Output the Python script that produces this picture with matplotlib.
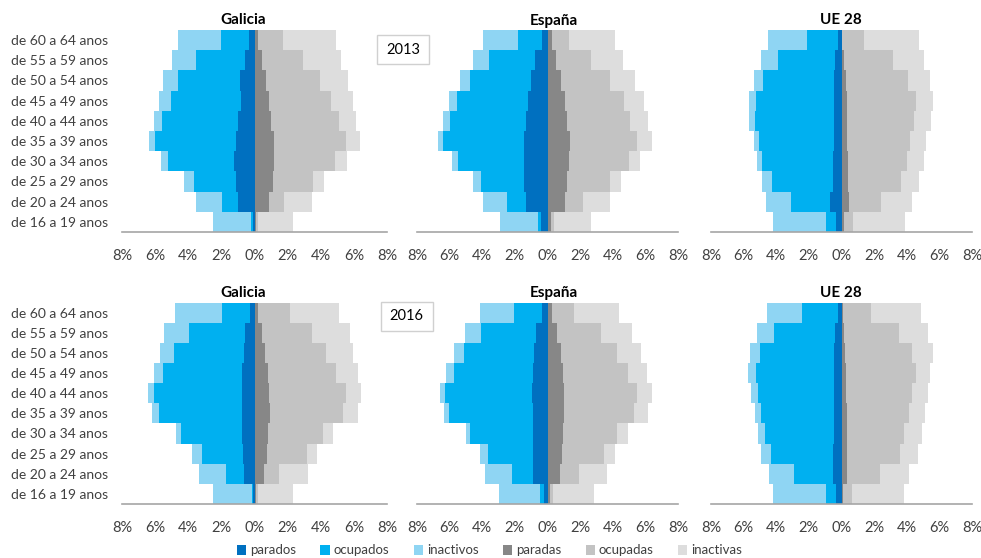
import numpy as np
import matplotlib
matplotlib.use("Agg")
import matplotlib.pyplot as plt
from matplotlib.patches import Patch, Rectangle

plt.rcParams['font.family'] = ['Lato', 'DejaVu Sans']

ages = ["de 16 a 19 anos", "de 20 a 24 anos", "de 25 a 29 anos", "de 30 a 34 anos",
        "de 35 a 39 anos", "de 40 a 44 anos", "de 45 a 49 anos", "de 50 a 54 anos",
        "de 55 a 59 anos", "de 60 a 64 anos"]
xticks = [-8, -6, -4, -2, 0, 2, 4, 6, 8]
xticklabels = ["8%", "6%", "4%", "2%", "0%", "2%", "4%", "6%", "8%"]

# ---- 2013 ----
gal13_parados   = [0.10, 0.98, 1.14, 1.24, 1.14, 1.00, 0.84, 0.90, 0.60, 0.34]
gal13_ocupados  = [0.14, 1.00, 2.54, 3.96, 4.86, 4.58, 4.20, 3.74, 2.94, 1.70]
gal13_inactivos = [2.24, 1.56, 0.56, 0.44, 0.38, 0.50, 0.74, 0.86, 1.46, 2.60]
gal13_paradas   = [0.10, 0.86, 1.10, 1.16, 1.16, 1.02, 0.86, 0.72, 0.46, 0.22]
gal13_ocupadas  = [0.12, 0.94, 2.46, 3.70, 4.34, 4.08, 3.74, 3.24, 2.46, 1.50]
gal13_inactivas = [2.10, 1.66, 0.66, 0.70, 0.86, 1.02, 1.32, 1.70, 2.30, 3.20]

esp13_parados   = [0.39, 1.29, 1.41, 1.41, 1.41, 1.29, 1.22, 1.02, 0.76, 0.31]
esp13_ocupados  = [0.20, 1.20, 2.69, 4.10, 5.00, 4.67, 4.33, 3.71, 2.81, 1.47]
esp13_inactivos = [2.31, 1.49, 0.49, 0.35, 0.30, 0.45, 0.47, 0.66, 1.02, 2.20]
esp13_paradas   = [0.22, 1.08, 1.22, 1.29, 1.35, 1.22, 1.08, 0.84, 0.51, 0.27]
esp13_ocupadas  = [0.15, 1.08, 2.64, 3.71, 4.14, 3.84, 3.59, 3.02, 2.16, 1.02]
esp13_inactivas = [2.30, 1.68, 0.65, 0.67, 0.90, 1.08, 1.27, 1.51, 1.98, 2.85]

ue13_parados   = [0.31, 0.72, 0.53, 0.53, 0.47, 0.47, 0.47, 0.43, 0.37, 0.22]
ue13_ocupados  = [0.61, 2.35, 3.76, 4.34, 4.56, 4.85, 4.79, 4.38, 3.54, 1.89]
ue13_inactivos = [3.29, 1.57, 0.58, 0.30, 0.35, 0.37, 0.43, 0.57, 1.00, 2.41]
ue13_paradas   = [0.14, 0.49, 0.41, 0.39, 0.35, 0.35, 0.35, 0.25, 0.14, 0.05]
ue13_ocupadas  = [0.58, 1.95, 3.21, 3.60, 3.84, 4.09, 4.19, 3.82, 3.03, 1.32]
ue13_inactivas = [3.15, 1.89, 1.12, 1.06, 1.02, 1.02, 1.06, 1.33, 1.88, 3.37]

# ---- 2016 ----
gal16_parados   = [0.08, 0.64, 0.70, 0.74, 0.78, 0.78, 0.78, 0.64, 0.60, 0.28]
gal16_ocupados  = [0.10, 1.10, 2.48, 3.70, 5.00, 5.30, 4.72, 4.24, 3.38, 1.70]
gal16_inactivos = [2.30, 1.60, 0.62, 0.30, 0.40, 0.36, 0.58, 0.80, 1.46, 2.82]
gal16_paradas   = [0.12, 0.60, 0.76, 0.82, 0.96, 0.90, 0.82, 0.66, 0.46, 0.22]
gal16_ocupadas  = [0.10, 0.88, 2.40, 3.34, 4.40, 4.60, 4.10, 3.66, 3.02, 1.94]
gal16_inactivas = [2.10, 1.74, 0.64, 0.56, 0.90, 0.92, 1.34, 1.64, 2.28, 2.96]

esp16_parados   = [0.24, 0.90, 0.90, 0.86, 0.88, 0.92, 0.88, 0.82, 0.69, 0.31]
esp16_ocupados  = [0.21, 1.28, 2.75, 3.87, 5.14, 5.35, 4.88, 4.30, 3.41, 1.77]
esp16_inactivos = [2.55, 1.64, 0.51, 0.25, 0.33, 0.34, 0.44, 0.64, 0.94, 2.08]
esp16_paradas   = [0.18, 0.78, 0.88, 0.92, 1.02, 1.02, 0.94, 0.84, 0.57, 0.27]
esp16_ocupadas  = [0.13, 1.18, 2.59, 3.37, 4.31, 4.45, 4.02, 3.40, 2.70, 1.38]
esp16_inactivas = [2.51, 1.71, 0.67, 0.67, 0.81, 0.96, 1.12, 1.47, 1.89, 2.76]

ue16_parados   = [0.31, 0.53, 0.53, 0.47, 0.47, 0.47, 0.47, 0.43, 0.37, 0.22]
ue16_ocupados  = [0.63, 2.39, 3.82, 4.24, 4.49, 4.63, 4.77, 4.57, 3.77, 2.19]
ue16_inactivos = [3.26, 1.53, 0.61, 0.39, 0.35, 0.47, 0.47, 0.61, 1.02, 2.18]
ue16_paradas   = [0.10, 0.35, 0.35, 0.35, 0.31, 0.29, 0.29, 0.24, 0.18, 0.08]
ue16_ocupadas  = [0.55, 2.00, 3.26, 3.51, 3.81, 4.04, 4.30, 4.09, 3.33, 1.70]
ue16_inactivas = [3.21, 1.77, 1.08, 1.08, 1.02, 0.98, 0.86, 1.26, 1.78, 3.10]

series_names = ["parados", "ocupados", "inactivos", "paradas", "ocupadas", "inactivas"]
colors = ["#0070C0", "#00B0F0", "#8FD5F3", "#878787", "#C3C3C3", "#DDDDDD"]

panels = [
    ("Galicia", [gal13_parados, gal13_ocupados, gal13_inactivos, gal13_paradas, gal13_ocupadas, gal13_inactivas]),
    ("España", [esp13_parados, esp13_ocupados, esp13_inactivos, esp13_paradas, esp13_ocupadas, esp13_inactivas]),
    ("UE 28", [ue13_parados, ue13_ocupados, ue13_inactivos, ue13_paradas, ue13_ocupadas, ue13_inactivas]),
    ("Galicia", [gal16_parados, gal16_ocupados, gal16_inactivos, gal16_paradas, gal16_ocupadas, gal16_inactivas]),
    ("España", [esp16_parados, esp16_ocupados, esp16_inactivos, esp16_paradas, esp16_ocupadas, esp16_inactivas]),
    ("UE 28", [ue16_parados, ue16_ocupados, ue16_inactivos, ue16_paradas, ue16_ocupadas, ue16_inactivas]),
]
years = ["2013", "2016"]

W, H = 981, 558
fig = plt.figure(figsize=(W / 100, H / 100), dpi=100)

col_x = [(122, 387), (417, 678), (711, 972)]
row_y = [(30, 232), (302.5, 504)]
title_y = [20.5, 293]
title_xc = [243, 554, 841]

y = np.arange(len(ages))
for i, (name, data) in enumerate(panels):
    r, c = divmod(i, 3)
    x0, x1 = col_x[c]
    yt, yb = row_y[r]
    ax = fig.add_axes([x0 / W, 1 - yb / H, (x1 - x0) / W, (yb - yt) / H])
    men = data[:3]
    women = data[3:]
    left = np.zeros(len(ages))
    for k, vals in enumerate(men):
        v = np.array(vals)
        ax.barh(y, -v, left=-left, height=1.0, color=colors[k], linewidth=0)
        left = left + v
    left = np.zeros(len(ages))
    for k, vals in enumerate(women):
        v = np.array(vals)
        ax.barh(y, v, left=left, height=1.0, color=colors[3 + k], linewidth=0)
        left = left + v
    ax.set_xlim(-8, 8)
    ax.set_ylim(-0.5, 9.5)
    for s in ["top", "right", "left"]:
        ax.spines[s].set_visible(False)
    ax.spines["bottom"].set_color("#A6A6A6")
    ax.spines["bottom"].set_linewidth(1.2)
    ax.set_xticks(xticks)
    ax.set_xticklabels(xticklabels, fontsize=10.5, color="#404040")
    ax.tick_params(axis="x", length=0, pad=12)
    ax.set_yticks(y)
    if c == 0:
        ax.set_yticklabels(ages, fontsize=10, color="#404040")
        ax.tick_params(axis="y", length=0, pad=10)
    else:
        ax.set_yticklabels([])
        ax.tick_params(axis="y", length=0)
    fig.text(title_xc[c] / W, 1 - title_y[r] / H, name, ha="center", va="center",
             fontsize=11, fontweight="bold", color="#000000")

# year boxes
boxes = [(376.7, 35, 52.3, 29.3, "2013"), (380.7, 302, 52, 29, "2016")]
for bx, by, bw, bh, txt in boxes:
    rect = Rectangle((bx / W, 1 - (by + bh) / H), bw / W, bh / H, transform=fig.transFigure,
                     facecolor="white", edgecolor="#D0D0D0", linewidth=1.0)
    fig.add_artist(rect)
    fig.text((bx + bw / 2) / W, 1 - (by + bh / 2) / H, txt, ha="center", va="center",
             fontsize=10.5, color="#000000")

handles = [Patch(facecolor=colors[k], edgecolor="none", label=series_names[k]) for k in range(6)]
fig.legend(handles=handles, loc="center", bbox_to_anchor=(0.499, 1 - 550.5 / H), ncol=6,
           frameon=False, fontsize=9.5, handlelength=0.7, handleheight=0.7, handletextpad=0.3,
           columnspacing=1.85, labelcolor="#404040")

fig.savefig("out.png", dpi=100)
